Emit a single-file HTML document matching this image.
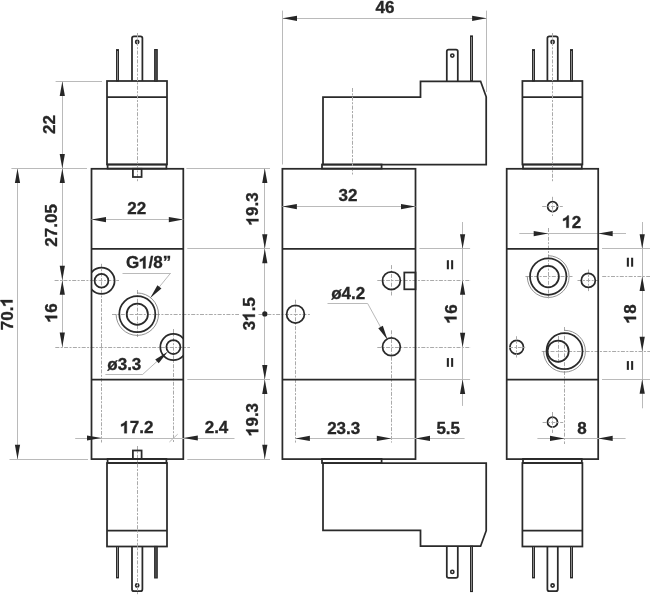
<!DOCTYPE html>
<html><head><meta charset="utf-8"><style>
html,body{margin:0;padding:0;background:#fff;width:650px;height:599px;overflow:hidden}
svg{display:block;will-change:transform}
.o{fill:none;stroke:#2a2a2a;stroke-width:1.75}
.oh{fill:none;stroke:#2a2a2a;stroke-width:1.6}
.th{fill:none;stroke:#777;stroke-width:0.8}
.pin{fill:#8a8a8a;stroke:#2a2a2a;stroke-width:1.0}
.pinf{fill:#555;stroke:#2a2a2a;stroke-width:1.2}
.dm{stroke:#bababa;stroke-width:1;fill:none}
.d{stroke:#aaaaaa;stroke-width:1;stroke-dasharray:4 1.4 2 1.4;fill:none}
.ar{fill:#262626;stroke:none}
.t{font-family:"Liberation Sans",sans-serif;font-weight:bold;font-size:68px;fill:#262626;stroke:#262626;stroke-width:1.3;text-anchor:start}
.t1{fill:#262626;stroke:#262626;stroke-width:1.3}
</style></head><body>
<svg width="650" height="599" viewBox="0 0 650 599">
<rect x="0" y="0" width="650" height="599" fill="#fff"/>
<rect class="o" x="106.99999999999999" y="81.0" width="60.00" height="83.50" />
<line class="o" x1="106.99999999999999" y1="97.0" x2="167.0" y2="97.0"/>
<rect class="o" x="107.6" y="164.5" width="58.80" height="4.10" />
<path class="o" d="M132.0,81 V38.3 Q132.0,36.3 134.0,36.3 H140.39999999999998 Q142.39999999999998,36.3 142.39999999999998,38.3 V81"/>
<circle class="oh" cx="137.2" cy="42.0" r="1.6"/>
<rect class="pin" x="116.5" y="49.6" width="2.00" height="31.40" />
<rect class="pinf" x="154.7" y="49.6" width="2.50" height="31.40" />
<rect class="o" x="106.99999999999999" y="463.0" width="60.00" height="83.50" />
<line class="o" x1="106.99999999999999" y1="530.5" x2="167.0" y2="530.5"/>
<rect class="o" x="107.6" y="458.9" width="58.80" height="4.10" />
<path class="o" d="M132.0,546.5 V589.2 Q132.0,591.2 134.0,591.2 H140.39999999999998 Q142.39999999999998,591.2 142.39999999999998,589.2 V546.5"/>
<circle class="oh" cx="137.2" cy="585.5" r="1.6"/>
<rect class="pin" x="116.5" y="546.5" width="2.00" height="31.40" />
<rect class="pinf" x="154.7" y="546.5" width="2.50" height="31.40" />
<line class="d" x1="137.5" y1="33" x2="137.5" y2="181.5"/>
<line class="d" x1="137.5" y1="446.0" x2="137.5" y2="594.5"/>
<rect class="o" x="132.9" y="168.8" width="8.70" height="8.20" />
<rect class="o" x="132.9" y="450.5" width="8.70" height="8.60" />
<clipPath id="cl"><rect x="91.5" y="168.8" width="91.80000000000001" height="290.3"/></clipPath>
<clipPath id="cm"><rect x="282.8" y="168.8" width="132.59999999999997" height="290.3"/></clipPath>
<clipPath id="cr"><rect x="506.7" y="168.8" width="91.50000000000006" height="290.3"/></clipPath>
<line class="d" x1="54.6" y1="280.5" x2="119" y2="280.5"/>
<line class="d" x1="101.5" y1="263.8" x2="101.5" y2="442.5"/>
<line class="d" x1="112.0" y1="314.5" x2="239.0" y2="314.5"/>
<line class="d" x1="258.5" y1="314.5" x2="311.0" y2="314.5"/>
<line class="d" x1="137.5" y1="290" x2="137.5" y2="337"/>
<line class="d" x1="55.3" y1="347.5" x2="190" y2="347.5"/>
<line class="d" x1="173.5" y1="329" x2="173.5" y2="442.5"/>
<g clip-path="url(#cl)">
<circle class="o" cx="101.5" cy="280.8" r="13.1"/>
<circle class="o" cx="101.5" cy="280.7" r="6.9"/>
<circle class="o" cx="173.4" cy="347.05" r="13.1"/>
<circle class="o" cx="173.4" cy="347.05" r="7.0"/>
</g>
<circle class="o" cx="137.3" cy="314.2" r="18.0"/>
<circle class="o" cx="137.3" cy="314.2" r="10.6"/>
<path class="th" d="M137.3,293.0 A21.2,21.2 0 1 1 116.1,314.2"/>
<rect class="o" x="91.5" y="168.8" width="91.80" height="290.30" />
<line class="o" x1="91.5" y1="248.8" x2="183.3" y2="248.8"/>
<line class="o" x1="91.5" y1="379.6" x2="183.3" y2="379.6"/>
<line class="dm" x1="17.5" y1="168.4" x2="17.5" y2="459.2"/>
<polygon class="ar" points="17.50,168.40 14.90,182.90 20.10,182.90"/>
<polygon class="ar" points="17.50,459.20 14.90,444.70 20.10,444.70"/>
<line class="dm" x1="11.4" y1="168.5" x2="87" y2="168.5"/>
<line class="dm" x1="9.5" y1="459.5" x2="88" y2="459.5"/>
<g transform="translate(12.55,313.6) rotate(-90) scale(0.25)">
<text class="t" x="-66.17" y="0">70. </text>
<path class="t1" d="M54.06,0.00 L44.34,0.00 L44.34,-32.98 Q 38.56,-28.56 31.42,-26.66 L 31.42,-35.70 Q 39.24,-38.08 44.68,-42.84 Q 47.74,-45.90 49.10,-48.69 L 54.06,-48.69 Z"/>
</g>
<line class="dm" x1="55.6" y1="81.5" x2="102" y2="81.5"/>
<line class="dm" x1="62.5" y1="81.4" x2="62.5" y2="347.6"/>
<polygon class="ar" points="62.30,81.40 59.70,95.90 64.90,95.90"/>
<polygon class="ar" points="62.30,168.40 59.70,153.90 64.90,153.90"/>
<polygon class="ar" points="62.30,168.40 59.70,182.90 64.90,182.90"/>
<polygon class="ar" points="62.30,280.30 59.70,265.80 64.90,265.80"/>
<polygon class="ar" points="62.30,280.30 59.70,294.80 64.90,294.80"/>
<polygon class="ar" points="62.30,346.90 59.70,332.40 64.90,332.40"/>
<g transform="translate(55.25,124.5) rotate(-90) scale(0.25)">
<text class="t" x="-37.82" y="0">22</text>
</g>
<g transform="translate(57.15,225.4) rotate(-90) scale(0.25)">
<text class="t" x="-85.08" y="0">27.05</text>
</g>
<g transform="translate(57.15,312.8) rotate(-90) scale(0.25)">
<text class="t" x="-37.82" y="0"> 6</text>
<path class="t1" d="M-12.11,0.00 L-21.84,0.00 L-21.84,-32.98 Q -27.62,-28.56 -34.76,-26.66 L -34.76,-35.70 Q -26.94,-38.08 -21.50,-42.84 Q -18.44,-45.90 -17.08,-48.69 L -12.11,-48.69 Z"/>
</g>
<line class="dm" x1="91.5" y1="219.5" x2="183.3" y2="219.5"/>
<polygon class="ar" points="91.50,219.60 106.00,217.00 106.00,222.20"/>
<polygon class="ar" points="183.30,219.60 168.80,217.00 168.80,222.20"/>
<g transform="translate(136.8,214.2) scale(0.25)">
<text class="t" x="-37.82" y="0">22</text>
</g>
<line class="dm" x1="122.5" y1="273.5" x2="170.6" y2="273.5"/>
<line class="dm" x1="170.6" y1="273.1" x2="151.2" y2="296.9"/>
<polygon class="ar" points="150.25,298.06 161.43,288.47 157.40,285.18"/>
<g transform="translate(148.55,268.4) scale(0.25)">
<text class="t" x="-90.71" y="0">G /8”</text>
<path class="t1" d="M-12.11,0.00 L-21.84,0.00 L-21.84,-32.98 Q -27.62,-28.56 -34.76,-26.66 L -34.76,-35.70 Q -26.94,-38.08 -21.50,-42.84 Q -18.44,-45.90 -17.08,-48.69 L -12.11,-48.69 Z"/>
</g>
<line class="dm" x1="105.4" y1="374.5" x2="142.8" y2="374.5"/>
<line class="dm" x1="142.8" y1="374.3" x2="166.6" y2="352.7"/>
<polygon class="ar" points="167.71,351.69 155.23,359.51 158.72,363.36"/>
<g transform="translate(124.3,369.8) scale(0.25)">
<text class="t" x="-68.03" y="0">ø3.3</text>
</g>
<line class="dm" x1="75.2" y1="438.5" x2="234.5" y2="438.5"/>
<polygon class="ar" points="101.50,438.00 87.00,435.40 87.00,440.60"/>
<polygon class="ar" points="183.30,438.00 197.80,435.40 197.80,440.60"/>
<line class="dm" x1="169.4" y1="442.0" x2="177.7" y2="434.2"/>
<g transform="translate(136.9,433.2) scale(0.25)">
<text class="t" x="-66.17" y="0"> 7.2</text>
<path class="t1" d="M-40.47,0.00 L-50.19,0.00 L-50.19,-32.98 Q -55.97,-28.56 -63.11,-26.66 L -63.11,-35.70 Q -55.29,-38.08 -49.85,-42.84 Q -46.79,-45.90 -45.43,-48.69 L -40.47,-48.69 Z"/>
</g>
<g transform="translate(216.5,432.9) scale(0.25)">
<text class="t" x="-47.26" y="0">2.4</text>
</g>
<line class="dm" x1="186.4" y1="168.5" x2="270" y2="168.5"/>
<line class="dm" x1="187.3" y1="248.5" x2="270" y2="248.5"/>
<line class="dm" x1="187.3" y1="379.5" x2="270" y2="379.5"/>
<line class="dm" x1="187.3" y1="459.5" x2="270" y2="459.5"/>
<path class="o" d="M323.0,164.50 L323.0,97.10 L420.5,97.10 L420.5,81.30 L480.6,81.30 L486.2,96.80 L486.2,164.50 Z"/>
<rect class="o" x="322.0" y="164.5" width="59.60" height="4.10" />
<path class="o" d="M446.8,81.3 V51.5 Q446.8,49.7 448.6,49.7 H456 Q457.8,49.7 457.8,51.5 V81.3"/>
<circle class="oh" cx="452.3" cy="55.6" r="1.6"/>
<rect class="pin" x="470.5" y="35.9" width="2.00" height="45.40" />
<path class="o" d="M323.0,463.00 L323.0,530.40 L420.5,530.40 L420.5,546.20 L480.6,546.20 L486.2,530.70 L486.2,463.00 Z"/>
<rect class="o" x="322.0" y="458.9" width="59.60" height="4.10" />
<path class="o" d="M446.8,546.2 V576.0 Q446.8,577.8 448.6,577.8 H456 Q457.8,577.8 457.8,576.0 V546.2"/>
<circle class="oh" cx="452.3" cy="571.9" r="1.6"/>
<rect class="pin" x="470.5" y="546.2" width="2.00" height="45.40" />
<line class="d" x1="352.5" y1="88" x2="352.5" y2="174.5"/>
<line class="d" x1="377.3" y1="280.5" x2="470.8" y2="280.5"/>
<line class="d" x1="377.3" y1="347.5" x2="470.8" y2="347.5"/>
<line class="d" x1="391.5" y1="265.1" x2="391.5" y2="296.3"/>
<line class="d" x1="391.5" y1="330.3" x2="391.5" y2="442.6"/>
<line class="d" x1="295.5" y1="299.7" x2="295.5" y2="442.6"/>
<circle class="o" cx="295.5" cy="314.2" r="8.9"/>
<circle class="o" cx="391.4" cy="280.7" r="8.9"/>
<circle class="o" cx="391.4" cy="346.8" r="8.9"/>
<rect class="o" x="404.3" y="272.5" width="11.20" height="16.80" />
<rect class="o" x="282.4" y="168.8" width="133.10" height="290.30" />
<line class="o" x1="282.4" y1="248.8" x2="415.5" y2="248.8"/>
<line class="o" x1="282.4" y1="379.6" x2="415.5" y2="379.6"/>
<line class="dm" x1="282.5" y1="10.6" x2="282.5" y2="164.5"/>
<line class="dm" x1="486.5" y1="10.6" x2="486.5" y2="92"/>
<line class="dm" x1="282.5" y1="18.5" x2="486.6" y2="18.5"/>
<polygon class="ar" points="282.50,18.30 297.00,15.70 297.00,20.90"/>
<polygon class="ar" points="486.60,18.30 472.10,15.70 472.10,20.90"/>
<g transform="translate(385.0,13.3) scale(0.25)">
<text class="t" x="-37.82" y="0">46</text>
</g>
<line class="dm" x1="282.4" y1="206.5" x2="415.5" y2="206.5"/>
<polygon class="ar" points="282.40,206.60 296.90,204.00 296.90,209.20"/>
<polygon class="ar" points="415.50,206.60 401.00,204.00 401.00,209.20"/>
<g transform="translate(348.0,201.4) scale(0.25)">
<text class="t" x="-37.82" y="0">32</text>
</g>
<line class="dm" x1="264.5" y1="168.4" x2="264.5" y2="459.2"/>
<polygon class="ar" points="264.80,168.40 262.20,182.90 267.40,182.90"/>
<polygon class="ar" points="264.80,248.80 262.20,234.30 267.40,234.30"/>
<polygon class="ar" points="264.80,248.80 262.20,263.30 267.40,263.30"/>
<polygon class="ar" points="264.80,379.60 262.20,365.10 267.40,365.10"/>
<polygon class="ar" points="264.80,379.60 262.20,394.10 267.40,394.10"/>
<polygon class="ar" points="264.80,459.20 262.20,444.70 267.40,444.70"/>
<circle class="ar" cx="264.8" cy="313.9" r="2.6"/>
<g transform="translate(258.45,208.8) rotate(-90) scale(0.25)">
<text class="t" x="-66.17" y="0"> 9.3</text>
<path class="t1" d="M-40.47,0.00 L-50.19,0.00 L-50.19,-32.98 Q -55.97,-28.56 -63.11,-26.66 L -63.11,-35.70 Q -55.29,-38.08 -49.85,-42.84 Q -46.79,-45.90 -45.43,-48.69 L -40.47,-48.69 Z"/>
</g>
<g transform="translate(254.9,313.75) rotate(-90) scale(0.25)">
<text class="t" x="-66.17" y="0">3 .5</text>
<path class="t1" d="M-2.65,0.00 L-12.38,0.00 L-12.38,-32.98 Q -18.16,-28.56 -25.30,-26.66 L -25.30,-35.70 Q -17.48,-38.08 -12.04,-42.84 Q -8.98,-45.90 -7.62,-48.69 L -2.65,-48.69 Z"/>
</g>
<g transform="translate(258.25,419.5) rotate(-90) scale(0.25)">
<text class="t" x="-66.17" y="0"> 9.3</text>
<path class="t1" d="M-40.47,0.00 L-50.19,0.00 L-50.19,-32.98 Q -55.97,-28.56 -63.11,-26.66 L -63.11,-35.70 Q -55.29,-38.08 -49.85,-42.84 Q -46.79,-45.90 -45.43,-48.69 L -40.47,-48.69 Z"/>
</g>
<line class="dm" x1="327.5" y1="303.5" x2="367.6" y2="303.5"/>
<line class="dm" x1="367.6" y1="303.4" x2="386.8" y2="338.4"/>
<polygon class="ar" points="387.52,339.72 382.83,325.75 378.27,328.25"/>
<g transform="translate(348.2,298.7) scale(0.25)">
<text class="t" x="-68.03" y="0">ø4.2</text>
</g>
<line class="dm" x1="295.4" y1="438.5" x2="464.6" y2="438.5"/>
<polygon class="ar" points="295.40,438.40 309.90,435.80 309.90,441.00"/>
<polygon class="ar" points="391.30,438.40 376.80,435.80 376.80,441.00"/>
<polygon class="ar" points="415.50,438.40 430.00,435.80 430.00,441.00"/>
<g transform="translate(343.7,433.7) scale(0.25)">
<text class="t" x="-66.17" y="0">23.3</text>
</g>
<g transform="translate(448.2,433.7) scale(0.25)">
<text class="t" x="-47.26" y="0">5.5</text>
</g>
<line class="dm" x1="419.4" y1="248.5" x2="470.1" y2="248.5"/>
<line class="dm" x1="419.4" y1="379.5" x2="470.1" y2="379.5"/>
<line class="dm" x1="462.5" y1="222" x2="462.5" y2="405.9"/>
<polygon class="ar" points="462.60,248.80 460.00,234.30 465.20,234.30"/>
<polygon class="ar" points="462.60,280.30 460.00,294.80 465.20,294.80"/>
<polygon class="ar" points="462.60,347.20 460.00,332.70 465.20,332.70"/>
<polygon class="ar" points="462.60,379.60 460.00,394.10 465.20,394.10"/>
<g transform="translate(455.85,264.9) rotate(-90) scale(0.25)">
<text class="t" x="-19.86" y="0">=</text>
</g>
<g transform="translate(456.55,313.8) rotate(-90) scale(0.25)">
<text class="t" x="-37.82" y="0"> 6</text>
<path class="t1" d="M-12.11,0.00 L-21.84,0.00 L-21.84,-32.98 Q -27.62,-28.56 -34.76,-26.66 L -34.76,-35.70 Q -26.94,-38.08 -21.50,-42.84 Q -18.44,-45.90 -17.08,-48.69 L -12.11,-48.69 Z"/>
</g>
<g transform="translate(455.85,362.6) rotate(-90) scale(0.25)">
<text class="t" x="-19.86" y="0">=</text>
</g>
<rect class="o" x="522.4" y="81.0" width="60.00" height="83.50" />
<line class="o" x1="522.4" y1="97.0" x2="582.4" y2="97.0"/>
<rect class="o" x="523.0" y="164.5" width="58.80" height="4.10" />
<path class="o" d="M547.4,81 V38.3 Q547.4,36.3 549.4,36.3 H555.8000000000001 Q557.8000000000001,36.3 557.8000000000001,38.3 V81"/>
<circle class="oh" cx="552.6" cy="42.0" r="1.6"/>
<rect class="pin" x="532.5" y="49.6" width="2.00" height="31.40" />
<rect class="pin" x="570.5" y="49.6" width="2.00" height="31.40" />
<rect class="o" x="522.4" y="463.0" width="60.00" height="83.50" />
<line class="o" x1="522.4" y1="530.5" x2="582.4" y2="530.5"/>
<rect class="o" x="523.0" y="458.9" width="58.80" height="4.10" />
<path class="o" d="M547.4,546.5 V589.2 Q547.4,591.2 549.4,591.2 H555.8000000000001 Q557.8000000000001,591.2 557.8000000000001,589.2 V546.5"/>
<circle class="oh" cx="552.6" cy="585.5" r="1.6"/>
<rect class="pin" x="532.5" y="546.5" width="2.00" height="31.40" />
<rect class="pin" x="570.5" y="546.5" width="2.00" height="31.40" />
<line class="d" x1="552.5" y1="33" x2="552.5" y2="182"/>
<circle class="o" cx="552.6" cy="206.6" r="5.0"/>
<line class="d" x1="542.2" y1="206.5" x2="562.8" y2="206.5"/>
<line class="d" x1="552.5" y1="196.8" x2="552.5" y2="216"/>
<circle class="o" cx="552.5" cy="422.2" r="5.0"/>
<line class="d" x1="542.6" y1="422.5" x2="563.2" y2="422.5"/>
<line class="d" x1="552.5" y1="412" x2="552.5" y2="432.9"/>
<line class="dm" x1="519.3" y1="233.5" x2="626" y2="233.5"/>
<polygon class="ar" points="548.20,233.60 533.70,231.00 533.70,236.20"/>
<polygon class="ar" points="598.20,233.60 612.70,231.00 612.70,236.20"/>
<g transform="translate(571.8,227.7) scale(0.25)">
<text class="t" x="-37.82" y="0"> 2</text>
<path class="t1" d="M-12.11,0.00 L-21.84,0.00 L-21.84,-32.98 Q -27.62,-28.56 -34.76,-26.66 L -34.76,-35.70 Q -26.94,-38.08 -21.50,-42.84 Q -18.44,-45.90 -17.08,-48.69 L -12.11,-48.69 Z"/>
</g>
<line class="d" x1="548.5" y1="228" x2="548.5" y2="298.8"/>
<line class="d" x1="525.4" y1="276.5" x2="572.5" y2="276.5"/>
<line class="d" x1="602.2" y1="276.5" x2="650" y2="276.5"/>
<circle class="o" cx="548.2" cy="276.6" r="18.2"/>
<circle class="o" cx="548.2" cy="276.6" r="10.7"/>
<path class="th" d="M548.2,255.7 A20.9,20.9 0 1 1 527.3,276.6"/>
<line class="d" x1="577.5" y1="280.5" x2="598" y2="280.5"/>
<line class="d" x1="588.5" y1="269.5" x2="588.5" y2="291.2"/>
<circle class="o" cx="588.3" cy="280.4" r="7.0"/>
<circle class="o" cx="516.7" cy="347.2" r="6.8"/>
<line class="d" x1="509" y1="347.5" x2="526" y2="347.5"/>
<line class="d" x1="516.5" y1="336.2" x2="516.5" y2="357.5"/>
<line class="d" x1="541.7" y1="351.5" x2="650" y2="351.5"/>
<line class="d" x1="564.5" y1="327" x2="564.5" y2="444"/>
<line class="d" x1="558.5" y1="336" x2="558.5" y2="363"/>
<circle class="o" cx="564.5" cy="351.2" r="18.0"/>
<circle class="o" cx="558.1" cy="351.2" r="10.6"/>
<path class="th" d="M564.5,330.3 A20.9,20.9 0 1 1 543.6,351.2"/>
<rect class="o" x="506.7" y="168.8" width="91.50" height="290.30" />
<line class="o" x1="506.7" y1="248.8" x2="598.2" y2="248.8"/>
<line class="o" x1="506.7" y1="379.6" x2="598.2" y2="379.6"/>
<line class="dm" x1="537.4" y1="438.5" x2="625.6" y2="438.5"/>
<polygon class="ar" points="564.50,438.40 550.00,435.80 550.00,441.00"/>
<polygon class="ar" points="598.20,438.40 612.70,435.80 612.70,441.00"/>
<g transform="translate(582.0,433.6) scale(0.25)">
<text class="t" x="-18.91" y="0">8</text>
</g>
<line class="dm" x1="602" y1="248.5" x2="650" y2="248.5"/>
<line class="dm" x1="602" y1="379.5" x2="650" y2="379.5"/>
<line class="dm" x1="642.5" y1="222" x2="642.5" y2="408.3"/>
<polygon class="ar" points="642.20,248.80 639.60,234.30 644.80,234.30"/>
<polygon class="ar" points="642.20,276.60 639.60,291.10 644.80,291.10"/>
<polygon class="ar" points="642.20,351.20 639.60,336.70 644.80,336.70"/>
<polygon class="ar" points="642.20,379.30 639.60,393.80 644.80,393.80"/>
<g transform="translate(635.55,262.2) rotate(-90) scale(0.25)">
<text class="t" x="-19.86" y="0">=</text>
</g>
<g transform="translate(636.05,313.8) rotate(-90) scale(0.25)">
<text class="t" x="-37.82" y="0"> 8</text>
<path class="t1" d="M-12.11,0.00 L-21.84,0.00 L-21.84,-32.98 Q -27.62,-28.56 -34.76,-26.66 L -34.76,-35.70 Q -26.94,-38.08 -21.50,-42.84 Q -18.44,-45.90 -17.08,-48.69 L -12.11,-48.69 Z"/>
</g>
<g transform="translate(635.75,365.5) rotate(-90) scale(0.25)">
<text class="t" x="-19.86" y="0">=</text>
</g>
</svg>
</body></html>
